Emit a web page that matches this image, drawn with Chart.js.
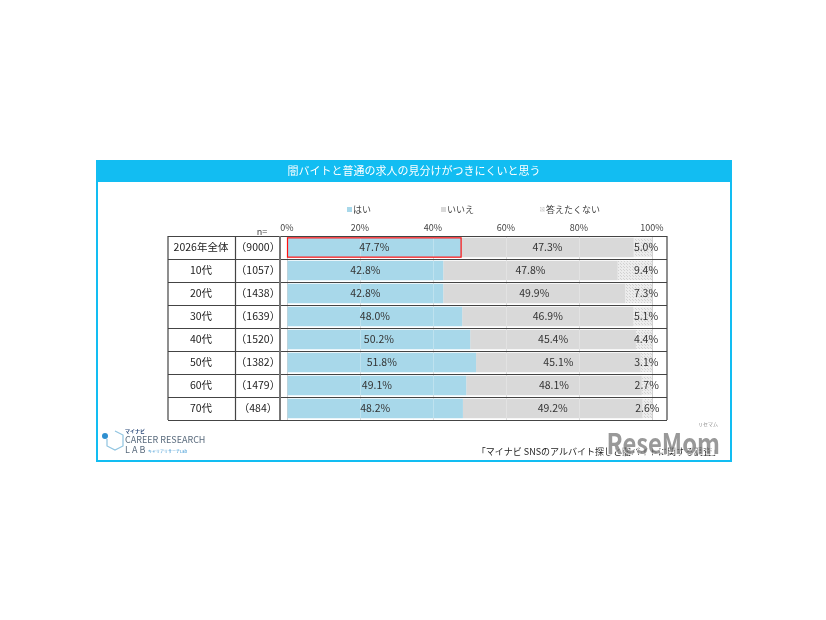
<!DOCTYPE html>
<html>
<head>
<meta charset="utf-8">
<script src="https://cdn.jsdelivr.net/npm/chart.js@4"></script>
<style>
  html, body { margin: 0; padding: 0; background: #fff; }
  #wrap { width: 826px; height: 620px; position: relative; }
</style>
</head>
<body>
<div id="wrap"><canvas id="c" width="826" height="620"></canvas></div>
<script>
const title = "闇バイトと普通の求人の見分けがつきにくいと思う";
const labels = ["2026年全体", "10代", "20代", "30代", "40代", "50代", "60代", "70代"];
const nLabels = ["（9000）", "（1057）", "（1438）", "（1639）", "（1520）", "（1382）", "（1479）", "（484）"];
const seriesNames = ["はい", "いいえ", "答えたくない"];
const yes = [47.7, 42.8, 42.8, 48.0, 50.2, 51.8, 49.1, 48.2];
const no = [47.3, 47.8, 49.9, 46.9, 45.4, 45.1, 48.1, 49.2];
const noAnswer = [5.0, 9.4, 7.3, 5.1, 4.4, 3.1, 2.7, 2.6];
const source = "「マイナビ SNSのアルバイト探しと闇バイトに関する調査」";

const FONT = '"Noto Sans CJK JP", "Noto Sans", sans-serif';

// 答えたくない用のドット模様
function dotPattern() {
  const p = document.createElement("canvas");
  p.width = 3; p.height = 3;
  const g = p.getContext("2d");
  g.fillStyle = "#ececec";
  g.fillRect(0, 0, 3, 3);
  g.fillStyle = "#d2d2d2";
  g.fillRect(0, 0, 1, 1);
  g.fillRect(2, 2, 1, 1);
  return g.createPattern(p, "repeat");
}
const pattern = dotPattern();
const colors = ["#a8d8ea", "#d9d9d9", pattern];

// 枠・タイトル・表・ラベルなどを描くプラグイン
const decor = {
  id: "decor",
  beforeDraw(chart) {
    const ctx = chart.ctx;
    ctx.save();
    // 外枠
    ctx.strokeStyle = "#12bdf2";
    ctx.lineWidth = 2;
    ctx.strokeRect(97, 161, 634, 300);
    ctx.fillStyle = "#12bdf2";
    ctx.fillRect(96, 160, 636, 22);
    ctx.fillStyle = "#ffffff";
    ctx.font = "11px " + FONT;
    ctx.textAlign = "center";
    ctx.textBaseline = "middle";
    ctx.fillText(title, 414, 171);

    // 凡例
    const lx = [347, 441, 540];
    ctx.font = "9px " + FONT;
    ctx.textAlign = "left";
    chart.data.datasets.forEach((ds, i) => {
      ctx.fillStyle = ds.backgroundColor;
      ctx.fillRect(lx[i], 207, 5, 5);
      ctx.fillStyle = "#444";
      ctx.fillText(ds.label, lx[i] + 6, 210);
    });
    ctx.fillStyle = "#444";
    ctx.textAlign = "center";
    ctx.fillText("n=", 262, 232);
    ctx.restore();
  },
  afterDatasetsDraw(chart) {
    const ctx = chart.ctx;
    const y = chart.scales.y;
    const x = chart.scales.x;
    ctx.save();
    // 棒の上のうすいグリッド
    ctx.strokeStyle = "rgba(255,255,255,0.25)";
    ctx.lineWidth = 1;
    [20, 40, 60, 80].forEach(v => {
      const px = Math.round(x.getPixelForValue(v)) + 0.5;
      ctx.beginPath();
      ctx.moveTo(px, chart.chartArea.top);
      ctx.lineTo(px, chart.chartArea.bottom);
      ctx.stroke();
    });
    // 値ラベル
    ctx.font = "10.5px " + FONT;
    ctx.fillStyle = "#333";
    ctx.textAlign = "center";
    ctx.textBaseline = "middle";
    chart.data.datasets.forEach((ds, di) => {
      chart.getDatasetMeta(di).data.forEach((bar, i) => {
        const left = Math.min(bar.x, bar.base);
        const right = Math.max(bar.x, bar.base);
        let cx = (left + right) / 2;
        if (di === 2) cx = Math.max(cx, right - 6);
        ctx.fillText(ds.data[i].toFixed(1) + "%", cx, bar.y);
      });
    });
    // 全体の「はい」に赤枠
    const b = chart.getDatasetMeta(0).data[0];
    ctx.strokeStyle = "#ff1010";
    ctx.lineWidth = 1.2;
    ctx.strokeRect(b.base, b.y - b.height / 2, b.x - b.base, b.height);

    // 表の罫線
    const half = (y.getPixelForValue(1) - y.getPixelForValue(0)) / 2;
    const top = y.getPixelForValue(0) - half;
    const bottom = y.getPixelForValue(labels.length - 1) + half;
    ctx.strokeStyle = "#444";
    ctx.lineWidth = 1.2;
    for (let i = 0; i <= labels.length; i++) {
      const yy = Math.round(top + i * half * 2) + 0.5;
      ctx.beginPath();
      ctx.moveTo(168, yy);
      ctx.lineTo(667, yy);
      ctx.stroke();
    }
    [168, 235.5, 667].forEach(px => {
      ctx.beginPath();
      ctx.moveTo(px, top);
      ctx.lineTo(px, bottom);
      ctx.stroke();
    });
    ctx.strokeStyle = "#777";
    ctx.lineWidth = 2;
    ctx.beginPath();
    ctx.moveTo(280, top);
    ctx.lineTo(280, bottom);
    ctx.stroke();

    // 行ラベル
    ctx.fillStyle = "#222";
    ctx.font = "10.5px " + FONT;
    labels.forEach((lab, i) => {
      const yy = y.getPixelForValue(i);
      ctx.fillText(lab, 201, yy);
      ctx.fillText(nLabels[i], 258, yy);
    });

    // ロゴ
    ctx.strokeStyle = "#8fc4e0";
    ctx.lineWidth = 1.2;
    ctx.beginPath();
    ctx.moveTo(115, 431); ctx.lineTo(123, 435); ctx.lineTo(123, 446);
    ctx.lineTo(115, 450); ctx.lineTo(107, 446); ctx.lineTo(107, 439);
    ctx.stroke();
    ctx.fillStyle = "#2e8fd0";
    ctx.beginPath();
    ctx.arc(105, 436, 3, 0, Math.PI * 2);
    ctx.fill();
    ctx.textAlign = "left";
    ctx.fillStyle = "#2b4a7a";
    ctx.font = "bold 5px " + FONT;
    ctx.fillText("マイナビ", 125, 431);
    ctx.fillStyle = "#5a6b7d";
    ctx.font = "9px " + FONT;
    ctx.fillText("CAREER RESEARCH", 125, 440);
    ctx.fillText("L A B", 125, 450);
    ctx.fillStyle = "#2e8fd0";
    ctx.font = "4px " + FONT;
    ctx.fillText("キャリアリサーチLab", 148, 451);

    // 出典
    ctx.textAlign = "right";
    ctx.fillStyle = "#222";
    ctx.font = "9px " + FONT;
    ctx.fillText(source, 721, 452);
    // 透かし
    ctx.save();
    ctx.translate(720, 443);
    ctx.scale(0.85, 1);
    ctx.textAlign = "right";
    ctx.font = "bold 28px " + FONT;
    ctx.lineWidth = 2;
    ctx.strokeStyle = "rgba(255,255,255,0.7)";
    ctx.strokeText("ReseMom", 0, 0);
    ctx.fillStyle = "rgba(110,110,110,0.7)";
    ctx.fillText("ReseMom", 0, 0);
    ctx.restore();
    ctx.fillStyle = "rgba(110,110,110,0.8)";
    ctx.font = "5px " + FONT;
    ctx.fillText("リセマム", 718, 424);
    ctx.restore();
  }
};

new Chart(document.getElementById("c"), {
  type: "bar",
  data: {
    labels: labels,
    datasets: [
      { label: seriesNames[0], data: yes, backgroundColor: colors[0] },
      { label: seriesNames[1], data: no, backgroundColor: colors[1] },
      { label: seriesNames[2], data: noAnswer, backgroundColor: colors[2] }
    ]
  },
  options: {
    indexAxis: "y",
    responsive: false,
    animation: false,
    devicePixelRatio: 1,
    layout: { padding: { left: 287, right: 174, top: 222, bottom: 200 } },
    datasets: { bar: { barPercentage: 0.84, categoryPercentage: 1, borderWidth: 0 } },
    plugins: { legend: { display: false }, tooltip: { enabled: false } },
    scales: {
      x: {
        stacked: true,
        position: "top",
        min: 0,
        max: 100,
        ticks: {
          stepSize: 20,
          padding: 3,
          color: "#444",
          font: { size: 9, family: FONT },
          callback: v => v + "%"
        },
        grid: { color: "#d0d0d0", drawTicks: false },
        border: { display: false },
        afterFit: s => { s.height = 14; }
      },
      y: {
        stacked: true,
        display: false
      }
    }
  },
  plugins: [decor]
});
</script>
</body>
</html>
